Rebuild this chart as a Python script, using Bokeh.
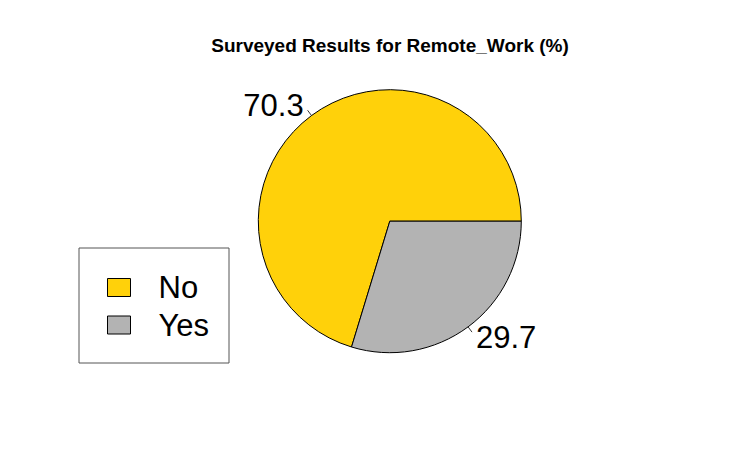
import numpy as np
from bokeh.plotting import figure
from bokeh.models import Range1d, ColumnDataSource
from bokeh.core.properties import value
from bokeh.embed import file_html
from bokeh.resources import INLINE

# ---- data ----
categories = ["No", "Yes"]
percentages = [70.3, 29.7]
colors = ["#FFD10A", "#B3B3B3"]
title_text = "Surveyed Results for Remote_Work (%)"

W, H = 724, 445
# data coordinates = screen pixels (x), flipped screen pixels (y)
def sy(y):
    return 461 - y

p = figure(width=W, height=H, output_backend="svg", toolbar_location=None,
           x_range=Range1d(0, W), y_range=Range1d(461 - H, 461),
           min_border=0, outline_line_color=None, background_fill_color="white",
           border_fill_color="white")
p.axis.visible = False
p.grid.visible = False

cx, cy, r = 389.3, sy(220.7), 131.5
vals = np.array(percentages)
fr = vals / vals.sum()
ends = np.cumsum(fr) * 2 * np.pi
starts = np.concatenate([[0.0], ends[:-1]])
mids = (starts + ends) / 2

src = ColumnDataSource(dict(start=starts, end=ends, color=colors))
p.wedge(x=cx, y=cy, radius=r, start_angle="start", end_angle="end",
        fill_color="color", line_color="black", line_width=1, source=src)

# tick lines & labels (R pie style)
for m, v in zip(mids, percentages):
    c, s = np.cos(m), np.sin(m)
    p.line([cx + r * c, cx + 1.05 * r * c], [cy + r * s, cy + 1.05 * r * s],
           line_color="black", line_width=0.8)
    p.text(x=[cx + 1.1 * r * c], y=[cy + 1.1 * r * s], text=[f"{v:.1f}"],
           text_font=value("Liberation Sans"), text_font_size="31px",
           text_align="right" if c < 0 else "left", text_baseline="middle",
           text_color="black")

# title
p.text(x=[389.5], y=[sy(44.5)], text=[title_text], text_font=value("Liberation Sans"),
       text_font_size="19px", text_font_style="bold", text_align="center",
       text_baseline="middle", text_color="black")

# legend box
p.quad(left=[78.5], right=[228.5], top=[sy(247.5)], bottom=[sy(362.5)],
       fill_color="white", line_color="#555555", line_width=1)
leg_y = [sy(287), sy(324.5)]
p.rect(x=[118.5] * len(categories), y=leg_y, width=23, height=18,
       fill_color=colors, line_color="black", line_width=1)
p.text(x=[158] * len(categories), y=leg_y, text=categories,
       text_font=value("Liberation Sans"), text_font_size="31px",
       text_align="left", text_baseline="middle", text_color="black")

open("out.html", "w").write(file_html(p, INLINE))
